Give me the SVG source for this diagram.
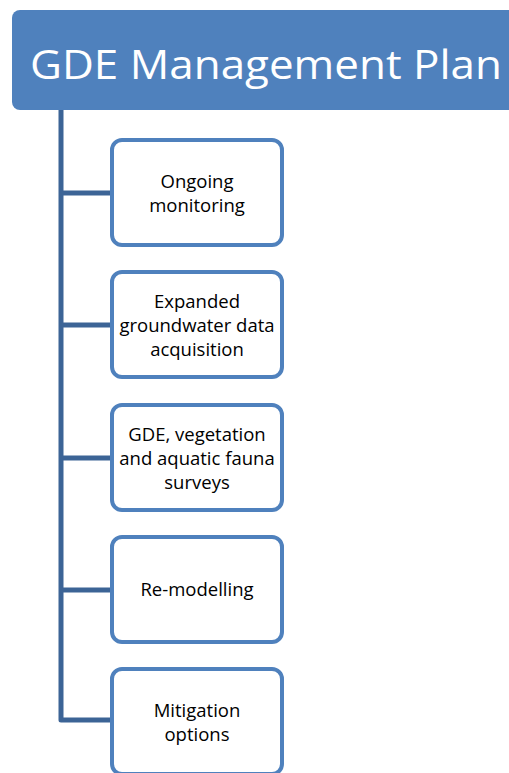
<svg xmlns="http://www.w3.org/2000/svg" width="509" height="773" viewBox="0 0 509 773">
<style>
.box{fill:#ffffff;stroke:#4f81bd;stroke-width:4}
.t{font-family:"Open Sans","Liberation Sans",sans-serif;font-size:18.5px;fill:#000;text-anchor:middle}
.c{fill:none;stroke:#3c6496;stroke-width:5;stroke-linejoin:round}
</style>
<rect width="509" height="773" fill="#ffffff"/>
<g id="connectors">
<path class="c" d="M61,110 V720 H111"/>
<path class="c" d="M61,193 H111 M61,325 H111 M61,458 H111 M61,590 H111"/>
</g>
<g id="header">
<rect x="12" y="10" width="520" height="100" rx="8" fill="#4f81bd"/>
<text x="30" y="79" font-family="Open Sans,Liberation Sans,sans-serif" font-size="41" fill="#ffffff" textLength="472" lengthAdjust="spacingAndGlyphs">GDE Management Plan</text>
</g>
<g id="n1">
<rect class="box" x="112" y="140" width="170" height="105" rx="10"/>
<text class="t" x="197" y="188">Ongoing</text>
<text class="t" x="197" y="212">monitoring</text>
</g>
<g id="n2">
<rect class="box" x="112" y="272" width="170" height="105" rx="10"/>
<text class="t" x="197" y="308">Expanded</text>
<text class="t" x="197" y="332">groundwater data</text>
<text class="t" x="197" y="356">acquisition</text>
</g>
<g id="n3">
<rect class="box" x="112" y="405" width="170" height="105" rx="10"/>
<text class="t" x="197" y="441">GDE, vegetation</text>
<text class="t" x="197" y="465">and aquatic fauna</text>
<text class="t" x="197" y="489">surveys</text>
</g>
<g id="n4">
<rect class="box" x="112" y="537" width="170" height="105" rx="10"/>
<text class="t" x="197" y="596">Re-modelling</text>
</g>
<g id="n5">
<rect class="box" x="112" y="669" width="170" height="105" rx="10"/>
<text class="t" x="197" y="717">Mitigation</text>
<text class="t" x="197" y="741">options</text>
</g>
</svg>
